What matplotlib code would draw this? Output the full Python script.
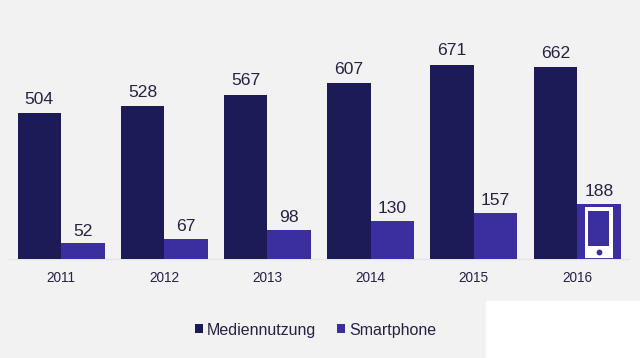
import numpy as np
import matplotlib.pyplot as plt
from matplotlib.patches import Rectangle

years = ['2011', '2012', '2013', '2014', '2015', '2016']
medien = [504, 528, 567, 607, 671, 662]
smart = [52, 67, 98, 130, 157, 188]

bg = '#f2f2f3'
dark = '#1c1a57'
blue = '#3b2fa0'
txt = '#262243'
W, H = 640, 358
base_px = 258.5
scale = 0.2887  # px per unit
step = 103.2

plt.rcParams['font.family'] = ['Liberation Sans', 'DejaVu Sans']

fig = plt.figure(figsize=(W / 100, H / 100), dpi=100, facecolor=bg)
ax = fig.add_axes([0, (H - base_px) / H, 1, base_px / H])
ax.set_facecolor('none')
ax.set_xlim(-61 / step, (W - 61) / step)
ax.set_ylim(0, base_px / scale)

x = np.arange(len(years))
bw = 43.5 / step
b1 = ax.bar(x - bw / 2, medien, bw, color=dark, label='Mediennutzung', zorder=3)
b2 = ax.bar(x + bw / 2, smart, bw, color=blue, label='Smartphone', zorder=3)

for b, v in zip(b1, medien):
    ax.text(b.get_x() + bw / 2, v + 22, str(v), ha='center', va='bottom', fontsize=12.6, color=txt)
for b, v in zip(b2, smart):
    ax.text(b.get_x() + bw / 2, v + 17, str(v), ha='center', va='bottom', fontsize=12.6, color=txt)

# phone icon on the last bar
cx = x[-1] + bw / 2
ax.add_patch(Rectangle((cx - 14 / step, 0), 28 / step, 178, color='white', lw=0, zorder=4))
ax.add_patch(Rectangle((cx - 10.7 / step, 44), 21.4 / step, 122, color=blue, lw=0, zorder=5))
ax.add_patch(Rectangle((cx - 14 / step, 0), 28 / step, 3, color='#4a4488', lw=0, zorder=5))
ax.plot([cx], [24], 'o', ms=4.2, color=blue, mew=0, zorder=5)

for s in ax.spines.values():
    s.set_visible(False)
ax.set_yticks([])
ax.set_xticks(x)
ax.set_xticklabels(years, fontsize=9.8, color=txt)
ax.tick_params(axis='x', length=0, pad=9)
ax.plot([-0.5, 5.5], [0, 0], color='#e6e6e9', lw=1, zorder=1, clip_on=False)

fig.legend(handles=[b1, b2], loc='center', ncol=2, frameon=False, fontsize=11.5,
           labelcolor=txt, handlelength=0.5, handleheight=0.5, handletextpad=0.27,
           columnspacing=1.3, bbox_to_anchor=(315.5 / W, (H - 330) / H))

# white block bottom right
fig.add_artist(Rectangle((486 / W, 0), (W - 486) / W, (H - 301) / H, transform=fig.transFigure,
                         color='white', lw=0))

fig.savefig('out.png', dpi=100, facecolor=bg)
